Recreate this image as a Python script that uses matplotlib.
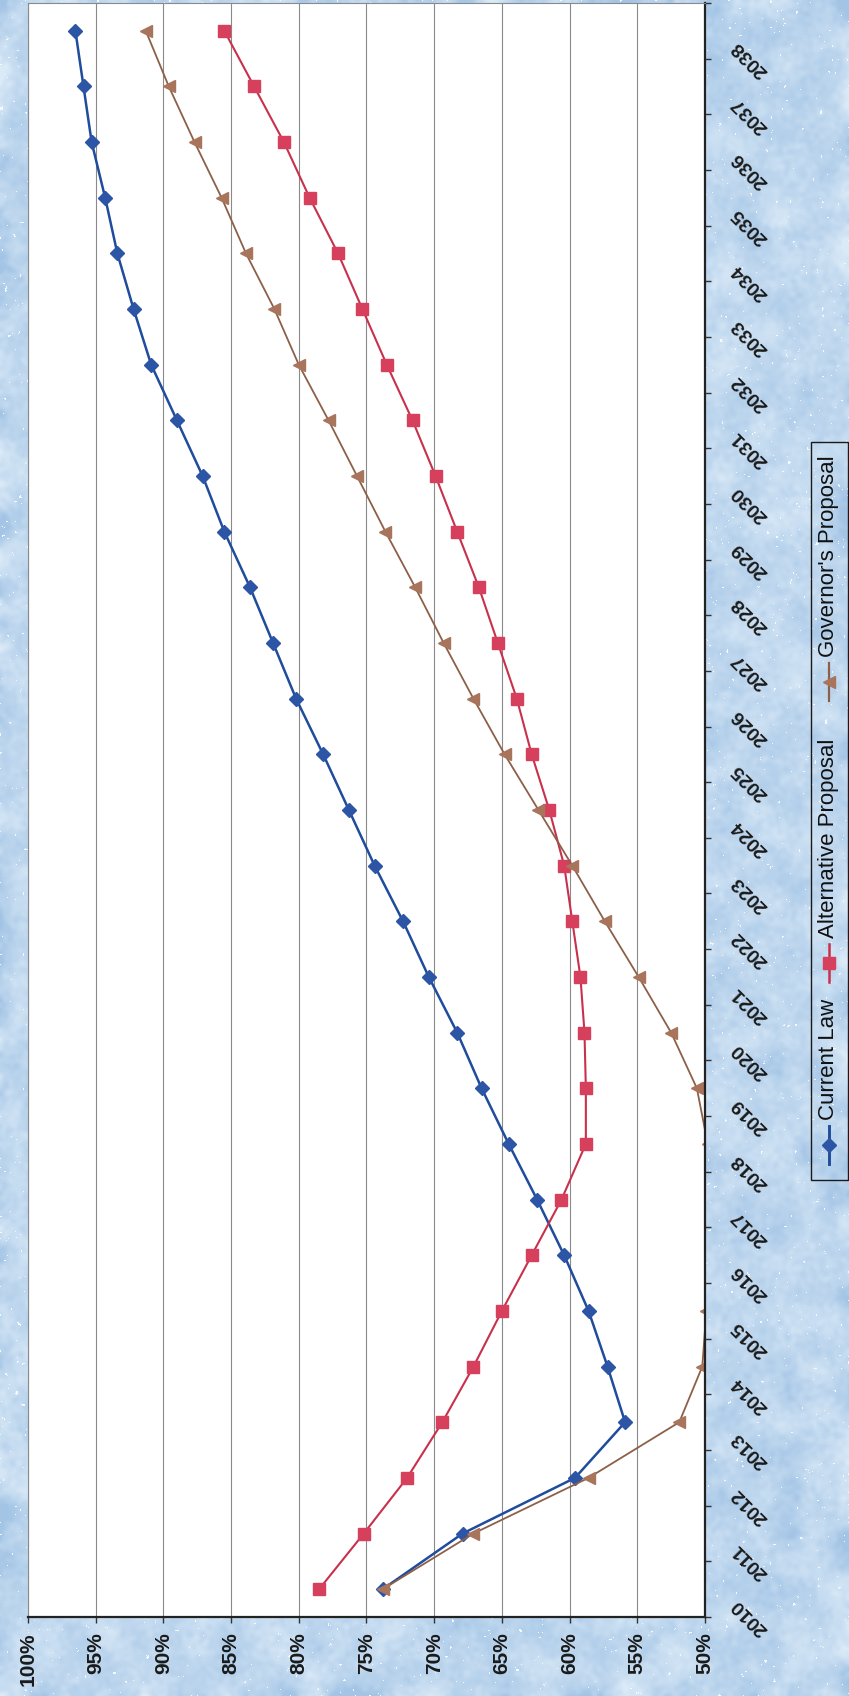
import numpy as np
import matplotlib
matplotlib.use("Agg")
import matplotlib.pyplot as plt
from matplotlib.patches import Rectangle
from matplotlib.lines import Line2D
from matplotlib.transforms import offset_copy, blended_transform_factory

plt.rcParams['font.family'] = ['Liberation Sans', 'DejaVu Sans']

# funded ratio projections, one value per year
years = list(range(2010, 2039))
current_law = [73.8, 67.9, 59.6, 55.9, 57.2, 58.6, 60.4, 62.4, 64.5, 66.5,
               68.3, 70.4, 72.3, 74.4, 76.3, 78.2, 80.2, 81.9, 83.6, 85.5,
               87.1, 89.0, 90.9, 92.2, 93.4, 94.3, 95.3, 95.9, 96.5]
alternative = [78.5, 75.2, 72.0, 69.4, 67.1, 65.0, 62.8, 60.6, 58.8, 58.8,
               58.9, 59.2, 59.8, 60.4, 61.5, 62.8, 63.9, 65.3, 66.7, 68.3,
               69.9, 71.6, 73.5, 75.3, 77.1, 79.2, 81.1, 83.3, 85.5]
governor = [73.8, 67.1, 58.6, 51.9, 50.2, 49.9, 49.4, 49.3, 49.8, 50.6,
            52.5, 54.9, 57.4, 59.8, 62.3, 64.8, 67.1, 69.3, 71.4, 73.6,
            75.7, 77.8, 80.0, 81.8, 83.9, 85.7, 87.7, 89.6, 91.3]

pct_ticks = [100, 95, 90, 85, 80, 75, 70, 65, 60, 55, 50]
pct_labels = [f"{p}%" for p in pct_ticks]

names = ["Current Law", "Alternative Proposal", "Governor's Proposal"]
line_colors = ["#1f4c9c", "#c8304c", "#8c6048"]
marker_colors = ["#2d55a5", "#d6405c", "#a8745c"]
markers = ["D", "s", "<"]
marker_sizes = [7.5, 8, 9]
line_widths = [1.8, 1.5, 1.3]

W, H = 849, 1696
fig = plt.figure(figsize=(W / 100, H / 100), dpi=100)
fig.patch.set_facecolor("#bfd7ee")


def box_blur(a, r, passes=1):
    # separable running-mean blur with edge padding
    k = 2 * r + 1
    for _ in range(passes):
        for axis in (0, 1):
            pad = [(0, 0), (0, 0)]
            pad[axis] = (r + 1, r)
            c = np.cumsum(np.pad(a, pad, mode="edge"), axis=axis)
            if axis == 0:
                a = (c[k:] - c[:-k]) / k
            else:
                a = (c[:, k:] - c[:, :-k]) / k
    return a


def normed(a):
    return (a - a.mean()) / a.std()


# mottled light-blue paper behind the chart
rng = np.random.default_rng(3)
coarse = normed(box_blur(rng.random((H, W)), 9, passes=3))
fine = normed(box_blur(rng.random((H, W)), 2, passes=2))
field = np.clip(0.5 + 0.18 * (0.65 * coarse + 0.35 * fine), 0, 1)
dark = np.array([0.64, 0.77, 0.90])
light = np.array([0.86, 0.92, 0.97])
paper = dark + (light - dark) * field[..., None]
flecks = normed(box_blur(rng.random((H, W)), 1)) > 2.5
paper[flecks] = [0.96, 0.98, 1.0]
bg = fig.add_axes([0, 0, 1, 1], zorder=-1)
bg.imshow(paper, extent=(0, W, H, 0), aspect="auto", interpolation="bilinear")
bg.axis("off")

# chart is laid out sideways: years run up the page, percent runs right-to-left
left, right, top, bottom = 28, 705, 3, 1617
ax = fig.add_axes([left / W, 1 - bottom / H, (right - left) / W, (bottom - top) / H])
ax.set_facecolor("white")

for vals, name, lc, mc, mk, ms, lw in zip([current_law, alternative, governor], names,
                                          line_colors, marker_colors, markers,
                                          marker_sizes, line_widths):
    ax.plot(vals, years, color=lc, lw=lw, marker=mk, ms=ms, mfc=mc, mec=mc, label=name)

ax.set_xlim(100, 50)
ax.set_ylim(2009.5, 2038.5)

ax.set_xticks(pct_ticks)
ax.set_xticklabels(pct_labels, rotation=90, fontsize=15, fontweight="bold", color="#1a1a1a")
ax.tick_params(axis="x", direction="out", length=4, width=1, pad=7, color="#333333")
ax.grid(axis="x", color="#8a8a8a", lw=0.8)
ax.set_axisbelow(True)

# category boundaries get tick marks, labels sit at category centres
ax.set_yticks([])
ax.set_yticks([y - 0.5 for y in years] + [years[-1] + 0.5], minor=True)
ax.yaxis.tick_right()
ax.tick_params(axis="y", which="minor", direction="out", length=4, width=1, color="#333333")

trans = blended_transform_factory(ax.transAxes, ax.transData)
label_trans = offset_copy(trans, fig=fig, x=45, y=-28, units="dots")
for y in years:
    ax.text(1, y, str(y), transform=label_trans, rotation=135, ha="center", va="center",
            fontsize=14, fontweight="bold", color="#1a1a1a")

ax.spines["left"].set_color("#8a8a8a")
ax.spines["top"].set_color("#8a8a8a")
ax.spines["bottom"].set_color("#222222")
ax.spines["right"].set_color("#222222")
ax.spines["bottom"].set_linewidth(1.6)
ax.spines["right"].set_linewidth(1.6)

# legend, drawn in page pixels so it can run up the right edge
lax = fig.add_axes([0, 0, 1, 1], zorder=5)
lax.set_xlim(0, W)
lax.set_ylim(H, 0)
lax.axis("off")
lax.add_patch(Rectangle((811, 442), 37, 738, fill=False, ec="#1a1a1a", lw=1))

entry_marker_y = [1145, 963, 682]
entry_text_y = [1120, 938, 657]
for i in range(3):
    my = entry_marker_y[i]
    lax.add_line(Line2D([829, 829], [my - 19, my + 19], color=line_colors[i], lw=line_widths[i] + 0.3))
    lax.plot([829], [my], marker=markers[i], ms=marker_sizes[i], mfc=marker_colors[i],
             mec=marker_colors[i], ls="none")
    lax.text(829, entry_text_y[i], names[i], rotation=90, ha="center", va="bottom",
             fontsize=16, color="#111111")

fig.savefig("out.png", dpi=100)
